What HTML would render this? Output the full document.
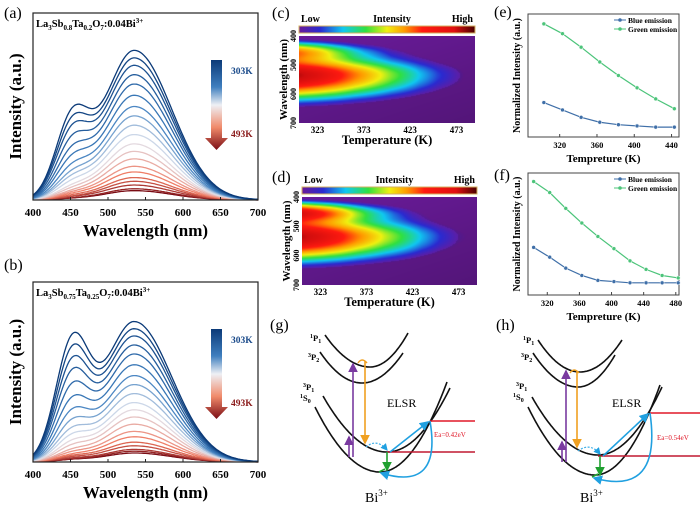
<!DOCTYPE html>
<html><head><meta charset="utf-8">
<style>
html,body{margin:0;padding:0;background:#fff;}
#wrap{position:relative;width:700px;height:506px;overflow:hidden;font-family:"Liberation Serif",serif;}
svg{position:absolute;left:0;top:0;}
canvas{position:absolute;}
</style></head>
<body>
<div id="wrap">
<canvas id="hmc" width="176" height="87" style="left:299px;top:36px;width:176px;height:87px"></canvas>
<canvas id="hmd" width="175" height="88" style="left:302px;top:197px;width:175px;height:88px"></canvas>
<svg id="svg" width="700" height="506" xmlns="http://www.w3.org/2000/svg" font-family="Liberation Serif, serif">
<defs>
<linearGradient id="rdbu" x1="0" y1="0" x2="0" y2="1">
<stop offset="0" stop-color="#0b3a78"/><stop offset="0.3" stop-color="#3f7fbf"/><stop offset="0.5" stop-color="#eef0f5"/><stop offset="0.75" stop-color="#f08a6a"/><stop offset="1" stop-color="#7a0c14"/></linearGradient>
<linearGradient id="jet" x1="0" y1="0" x2="1" y2="0">
<stop offset="0" stop-color="#6a1b9a"/><stop offset="0.12" stop-color="#2a2ad0"/><stop offset="0.25" stop-color="#10c8f0"/><stop offset="0.38" stop-color="#30e040"/><stop offset="0.5" stop-color="#f0f010"/><stop offset="0.6" stop-color="#ff9a00"/><stop offset="0.7" stop-color="#ff1a10"/><stop offset="0.88" stop-color="#e01010"/><stop offset="1" stop-color="#4a0000"/></linearGradient>
<marker id="mP" markerWidth="6" markerHeight="6" refX="5" refY="3" orient="auto"><path d="M0,0 L6,3 L0,6 Z" fill="#7a3aa0"/></marker>
<marker id="mO" markerWidth="6" markerHeight="6" refX="5" refY="3" orient="auto"><path d="M0,0 L6,3 L0,6 Z" fill="#f0a020"/></marker>
<marker id="mG" markerWidth="6" markerHeight="6" refX="5" refY="3" orient="auto"><path d="M0,0 L6,3 L0,6 Z" fill="#20a030"/></marker>
<marker id="mC" markerWidth="6" markerHeight="6" refX="5" refY="3" orient="auto"><path d="M0,0 L6,3 L0,6 Z" fill="#20a0e0"/></marker>
</defs>
</svg>
</div>
<script>
// ---- data ----
const temps=[303,313,323,333,343,353,363,373,383,393,403,413,423,433,443,453,463,473,483,493];
const blueA=[0.40,0.36,0.32,0.27,0.22,0.18,0.14,0.11,0.09,0.07,0.05,0.04,0.03,0.025,0.02,0.015,0.01,0.01,0.005,0.005];
const greenA=[0.80,0.76,0.72,0.67,0.62,0.56,0.50,0.45,0.40,0.35,0.30,0.26,0.22,0.18,0.15,0.12,0.10,0.08,0.06,0.05];
const blueB=[0.62,0.56,0.50,0.44,0.37,0.30,0.24,0.19,0.15,0.12,0.09,0.07,0.05,0.04,0.03,0.025,0.02,0.015,0.01,0.01];
const greenB=[0.78,0.74,0.70,0.65,0.60,0.54,0.48,0.43,0.38,0.33,0.29,0.25,0.21,0.17,0.14,0.11,0.09,0.07,0.06,0.05];
const wlTicks=[400,450,500,550,600,650,700];
const tempE=[303,323,343,363,383,403,423,443];
const blueE=[0.28,0.22,0.16,0.12,0.10,0.09,0.08,0.08];
const greenE=[0.92,0.84,0.73,0.61,0.50,0.40,0.31,0.23];
const tempF=[303,323,343,363,383,403,423,443,463,483];
const blueF=[0.39,0.31,0.22,0.16,0.12,0.11,0.10,0.10,0.10,0.10];
const greenF=[0.93,0.84,0.71,0.59,0.48,0.38,0.28,0.21,0.16,0.14];
const ticksE=[320,360,400,440];
const ticksF=[320,360,400,440,480];
const hmTicksT=[323,373,423,473];
const hmTicksW=[400,500,600,700];

const svg=document.getElementById('svg');
const NS='http://www.w3.org/2000/svg';
function el(tag,attrs,parent){const e=document.createElementNS(NS,tag);for(const k in attrs)e.setAttribute(k,attrs[k]);(parent||svg).appendChild(e);return e;}
function txt(s,attrs,parent){const e=el('text',attrs,parent);e.textContent=s;return e;}

function spec(l,b,g){const sg=l<535?40:50;return b*Math.exp(-((l-452)**2)/(2*22*22))+g*Math.exp(-((l-535)**2)/(2*sg*sg));}
function tcolor(i,n){const t=i/(n-1);const stops=[[0,[11,58,120]],[0.3,[63,127,191]],[0.5,[225,228,238]],[0.75,[240,120,95]],[1,[122,12,20]]];
 for(let k=0;k<stops.length-1;k++){const a=stops[k],b=stops[k+1];if(t<=b[0]){const f=(t-a[0])/(b[0]-a[0]);return 'rgb('+a[1].map((v,j)=>Math.round(v+(b[1][j]-v)*f)).join(',')+')';}}return 'rgb(122,12,20)';}

function spectraPanel(name,x0,x1,y0,y1,bArr,gArr,title,sub,letter,ly){
 const g=el('g',{},svg);
 
 
 const X=l=>x0+(l-400)/300*(x1-x0), Y=v=>y1-v*(y1-y0);
 for(let i=temps.length-1;i>=0;i--){let d='';for(let l=400;l<=700;l+=2){d+=(l===400?'M':'L')+X(l).toFixed(1)+','+Y(spec(l,bArr[i],gArr[i])).toFixed(1);}
  const p=el('path',{d:d,fill:'none',stroke:tcolor(i,temps.length),'stroke-width':1.3},g);
  
  }
 const fr=el('rect',{x:x0,y:y0,width:x1-x0,height:y1-y0,fill:'none',stroke:'#222','stroke-width':1.2},g);
 
 wlTicks.forEach(w=>{el('line',{x1:X(w),x2:X(w),y1:y1,y2:y1-3,stroke:'#222'},g);
  const t=txt(String(w),{x:X(w),y:y1+16,'text-anchor':'middle','font-size':11,'font-weight':'bold'},g);
  });
 const xl=txt('Wavelength (nm)',{x:(x0+x1)/2,y:y1+36,'text-anchor':'middle','font-size':17,'font-weight':'bold'},g);
 
 const yl=txt('Intensity (a.u.)',{x:0,y:0,'text-anchor':'middle','font-size':17,'font-weight':'bold',transform:'translate('+(x0-12)+','+((y0+y1)/2)+') rotate(-90)'},g);
 
 const tt=el('text',{x:x0+3,y:y0+14,'font-size':10.5,'font-weight':'bold'},g);
 
 tt.innerHTML='La<tspan font-size="7" dy="3">3</tspan><tspan dy="-3">Sb</tspan><tspan font-size="7" dy="3">'+sub[0]+'</tspan><tspan dy="-3">Ta</tspan><tspan font-size="7" dy="3">'+sub[1]+'</tspan><tspan dy="-3">O</tspan><tspan font-size="7" dy="3">7</tspan><tspan dy="-3">:0.04Bi</tspan><tspan font-size="7" dy="-4">3+</tspan>';
 const lt=txt(letter,{x:4,y:ly,'font-size':16},g);
 
 const ar=el('path',{d:`M${x0+178},${y0+47} h11 v78 h6 l-11.5,12 l-11.5,-12 h6 Z`,fill:'url(#rdbu)'},g);
 
 const a1=txt('303K',{x:x0+198,y:y0+61,'font-size':9.5,'font-weight':'bold',fill:'#1a4a8a'},g);
 
 const a2=txt('493K',{x:x0+198,y:y0+124,'font-size':9.5,'font-weight':'bold',fill:'#8a1a1a'},g);
 
}
spectraPanel('panel-a',33,258,13,200,blueA,greenA,'',['0.8','0.2'],'(a)',18);
spectraPanel('panel-b',33,258,282,462,blueB,greenB,'',['0.75','0.25'],'(b)',270);

// heatmaps
function jet(v){const st=[[0,[106,27,154]],[0.1,[42,42,208]],[0.22,[16,200,240]],[0.34,[48,224,64]],[0.46,[240,240,16]],[0.58,[255,154,0]],[0.7,[255,26,16]],[0.88,[210,14,14]],[1,[90,0,0]]];
 v=Math.max(0,Math.min(1,v));for(let k=0;k<st.length-1;k++){const a=st[k],b=st[k+1];if(v<=b[0]){const f=(v-a[0])/(b[0]-a[0]);return a[1].map((c,j)=>Math.round(c+(b[1][j]-c)*f));}}return st[st.length-1][1];}
function heat(id,bArr,gArr){
 const cv=document.getElementById(id),ctx=cv.getContext('2d');
 const W=cv.width,H=cv.height;let mx=0;
 temps.forEach((t,i)=>{for(let l=400;l<=700;l+=5)mx=Math.max(mx,spec(l,bArr[i],gArr[i]));});
 const img=ctx.createImageData(W,H);
 for(let px=0;px<W;px++){const T=303+px/(W-1)*190;const fi=(T-303)/10;const i0=Math.min(18,Math.floor(fi)),f=fi-i0;
  const b=bArr[i0]+(bArr[i0+1]-bArr[i0])*f,g=gArr[i0]+(gArr[i0+1]-gArr[i0])*f;
  for(let py=0;py<H;py++){const l=400+py/(H-1)*300;const v=spec(l,b,g)/mx;const cv2=1.15*Math.pow(v,0.6)-0.25;let c=jet(cv2);
   if(cv2<0.02){const d=0.78+0.22*(1-py/H*0.6-px/W*0.4);c=c.map(x=>Math.round(x*d));}
   const k=(py*W+px)*4;img.data[k]=c[0];img.data[k+1]=c[1];img.data[k+2]=c[2];img.data[k+3]=255;}}
 ctx.putImageData(img,0,0);
}
heat('hmc',blueA,greenA);heat('hmd',blueB,greenB);

function heatAxes(name,x0,x1,y0,y1,cbY,letter,ly){
 const g=el('g',{},svg);
 
 const cb=el('rect',{x:x0,y:cbY,width:x1-x0,height:7,fill:'url(#jet)',stroke:'#d4b060','stroke-width':1},g);
 
 [['Low',x0+2,'start'],['Intensity',(x0+x1)/2+5,'middle'],['High',x1-2,'end']].forEach(a=>{const t=txt(a[0],{x:a[1],y:cbY-4,'text-anchor':a[2],'font-size':10,'font-weight':'bold'},g);});
 const X=T=>x0+(T-303)/190*(x1-x0), Y=w=>y0+(w-400)/300*(y1-y0);
 hmTicksT.forEach(T=>{const t=txt(String(T),{x:X(T),y:y1+10,'text-anchor':'middle','font-size':9,'font-weight':'bold'},g);});
 hmTicksW.forEach(w=>{const t=txt(String(w),{x:0,y:0,'text-anchor':'middle','font-size':8,'font-weight':'bold',transform:`translate(${x0-3},${Y(w)}) rotate(-90)`},g);});
 const xl=txt('Temperature (K)',{x:(x0+x1)/2,y:y1+21,'text-anchor':'middle','font-size':12.5,'font-weight':'bold'},g);
 
 const yl=txt('Wavelength (nm)',{x:0,y:0,'text-anchor':'middle','font-size':11,'font-weight':'bold',transform:`translate(${x0-12},${(y0+y1)/2}) rotate(-90)`},g);
 
 const lt=txt(letter,{x:272,y:ly,'font-size':16},g);
 
}
heatAxes('panel-c',299,475,36,123,26,'(c)',18);
heatAxes('panel-d',302,477,197,285,187,'(d)',182);

function linePanel(name,x0,x1,y0,y1,tmin,tmax,ticks,tArr,bArr,gArr,letter,ly){
 const g=el('g',{},svg);
 
 const X=T=>x0+(T-tmin)/(tmax-tmin)*(x1-x0),Y=v=>y1-v*(y1-y0);
 const fr=el('rect',{x:x0,y:y0,width:x1-x0,height:y1-y0,fill:'none',stroke:'#444','stroke-width':1},g);
 
 ticks.forEach(T=>{el('line',{x1:X(T),x2:X(T),y1:y1,y2:y1-3,stroke:'#444'},g);
  const t=txt(String(T),{x:X(T),y:y1+11,'text-anchor':'middle','font-size':8.5,'font-weight':'bold'},g);});
 [[gArr,'#4cc47a','green-emission'],[bArr,'#3f6fa8','blue-emission']].forEach(s=>{
  const pl=el('polyline',{points:tArr.map((T,i)=>X(T)+','+Y(s[0][i])).join(' '),fill:'none',stroke:s[1],'stroke-width':1.2},g);
  
  tArr.forEach((T,i)=>{const c=el('circle',{cx:X(T),cy:Y(s[0][i]),r:2,fill:s[1],stroke:'#fff','stroke-width':0.5},g);
   });});
 [['Blue emission','#3f6fa8',y0+6],['Green emission','#4cc47a',y0+15]].forEach(L=>{
  const lg=el('g',{},g);
  el('line',{x1:x1-65,x2:x1-53,y1:L[2],y2:L[2],stroke:L[1]},lg);el('circle',{cx:x1-59,cy:L[2],r:1.8,fill:L[1]},lg);
  txt(L[0],{x:x1-51,y:L[2]+3,'font-size':7.5,'font-weight':'bold'},lg);});
 const yl=txt('Normalized Intensity (a.u.)',{x:0,y:0,'text-anchor':'middle','font-size':10,'font-weight':'bold',transform:`translate(${x0-8},${(y0+y1)/2}) rotate(-90)`},g);
 
 const xl=txt('Tempreture (K)',{x:(x0+x1)/2,y:y1+25,'text-anchor':'middle','font-size':11,'font-weight':'bold'},g);
 
 const lt=txt(letter,{x:494,y:ly,'font-size':16},g);
 
}
linePanel('panel-e',528,679,14,137,286,448,ticksE,tempE,blueE,greenE,'(e)',17);
linePanel('panel-f',528,679,173,295,296,484,ticksF,tempF,blueF,greenF,'(f)',180);

// energy diagrams
function parab(g,xs,ys,xm,ym,xe,ye){let d='';const kl=(ys-ym)/((xs-xm)**2),kr=(ye-ym)/((xe-xm)**2);
 for(let x=xs;x<=xe;x+=1){const k=x<xm?kl:kr;d+=(x===xs?'M':'L')+x+','+(ym+k*(x-xm)**2).toFixed(1);}
 el('path',{d:d,fill:'none',stroke:'#111','stroke-width':1.6},g);}
function diagram(name,P){
 const g=el('g',{},svg);
 parab(g,...P.p1);parab(g,...P.p2);parab(g,...P.p3);parab(g,...P.s0);
 el('line',{x1:P.rx1,x2:P.rx2,y1:P.ru,y2:P.ru,stroke:'#e01828','stroke-width':1.6},g);
 el('line',{x1:P.rl,x2:P.rx2,y1:P.rd,y2:P.rd,stroke:'#c01830','stroke-width':1.4},g);
 el('line',{x1:P.pu1,x2:P.pu1,y1:P.pb,y2:P.pt1,stroke:'#7a3aa0','stroke-width':1.6,'marker-end':'url(#mP)'},g);
 el('line',{x1:P.pu2,x2:P.pu2,y1:P.pb,y2:P.pt2,stroke:'#7a3aa0','stroke-width':1.6,'marker-end':'url(#mP)'},g);
 el('path',{d:`M${P.ox-7},${P.ot+2} Q${P.ox-3},${P.ot-4} ${P.ox+2},${P.ot+2}`,fill:'none',stroke:'#f0a020','stroke-width':1.4},g);
 el('line',{x1:P.ox,x2:P.ox,y1:P.ot,y2:P.ob,stroke:'#f0a020','stroke-width':1.6,'marker-end':'url(#mO)'},g);
 el('path',{d:`M${P.ox+1},${P.ob+4} Q${P.gx-10},${P.rd-14} ${P.gx},${P.rd-2}`,fill:'none',stroke:'#40b0e8','stroke-width':1.2,'stroke-dasharray':'2,1.5','marker-end':'url(#mC)'},g);
 el('line',{x1:P.gx,x2:P.gx,y1:P.rd,y2:P.gb,stroke:'#20a030','stroke-width':1.6,'marker-end':'url(#mG)'},g);
 el('line',{x1:P.gx+3,x2:P.rx1-2,y1:P.rd,y2:P.ru+1,stroke:'#20a0e0','stroke-width':1.6,'marker-end':'url(#mC)'},g);
 el('path',{d:`M${P.rx1},${P.ru} Q${P.rx1+12},${P.gb+22} ${P.gx-6},${P.gb+3}`,fill:'none',stroke:'#20a0e0','stroke-width':1.6,'marker-end':'url(#mC)'},g);
 el('line',{x1:P.gx-8,x2:P.gx-2,y1:P.gb+2,y2:P.gb-1,stroke:'#20a030','stroke-width':1.6},g);
 const lab=(s,sup,x,y)=>{const t=el('text',{x:x,y:y,'font-size':8.5,'font-weight':'bold'},g);t.innerHTML='<tspan font-size="6" dy="-3">'+sup[0]+'</tspan><tspan dy="3">'+s+'</tspan><tspan font-size="6" dy="2">'+sup[1]+'</tspan>';};
 lab('P',['1','1'],P.lx+2,P.l1);lab('P',['3','2'],P.lx,P.l2);lab('P',['3','1'],P.lx-5,P.l3);lab('S',['1','0'],P.lx-8,P.l4);
 const e=txt('ELSR',{x:P.ex,y:P.ey,'font-size':12},g);
 const ea=txt(P.ea,{x:P.eax,y:P.eay,'font-size':7,fill:'#e01828'},g);
 const bi=el('text',{x:P.bx,y:P.by,'font-size':14},g);bi.innerHTML='Bi<tspan font-size="9" dy="-6">3+</tspan>';
 const lt=txt(P.letter,{x:P.ltx,y:P.lty,'font-size':16},g);
}
diagram('panel-g',{p1:[325,335,370,367,408,333],p2:[320,352,362,383,403,353],p3:[323,396,387,452,450,388],s0:[315,407,380,472,447,382],
 rx1:430,rx2:475,ru:421,rl:387,rd:452,pu1:349,pu2:353,pb:457,pt1:437,pt2:364,ox:365,ot:361,ob:443,gx:387,gb:470,
 lx:308,l1:341,l2:360,l3:390,l4:401,ex:387,ey:407,ea:'Ea=0.42eV',eax:434,eay:437,bx:365,by:502,letter:'(g)',ltx:270,lty:330});
diagram('panel-h',{p1:[538,340,580,372,622,340],p2:[533,353,578,387,615,355],p3:[532,397,598,455,662,387],s0:[528,407,595,475,660,385],
 rx1:650,rx2:700,ru:413,rl:598,rd:456,pu1:562,pu2:566,pb:462,pt1:442,pt2:371,ox:577,ot:371,ob:447,gx:600,gb:475,
 lx:521,l1:343,l2:360,l3:389,l4:400,ex:612,ey:407,ea:'Ea=0.54eV',eax:657,eay:440,bx:580,by:502,letter:'(h)',ltx:496,lty:330});
</script>
</body></html>
